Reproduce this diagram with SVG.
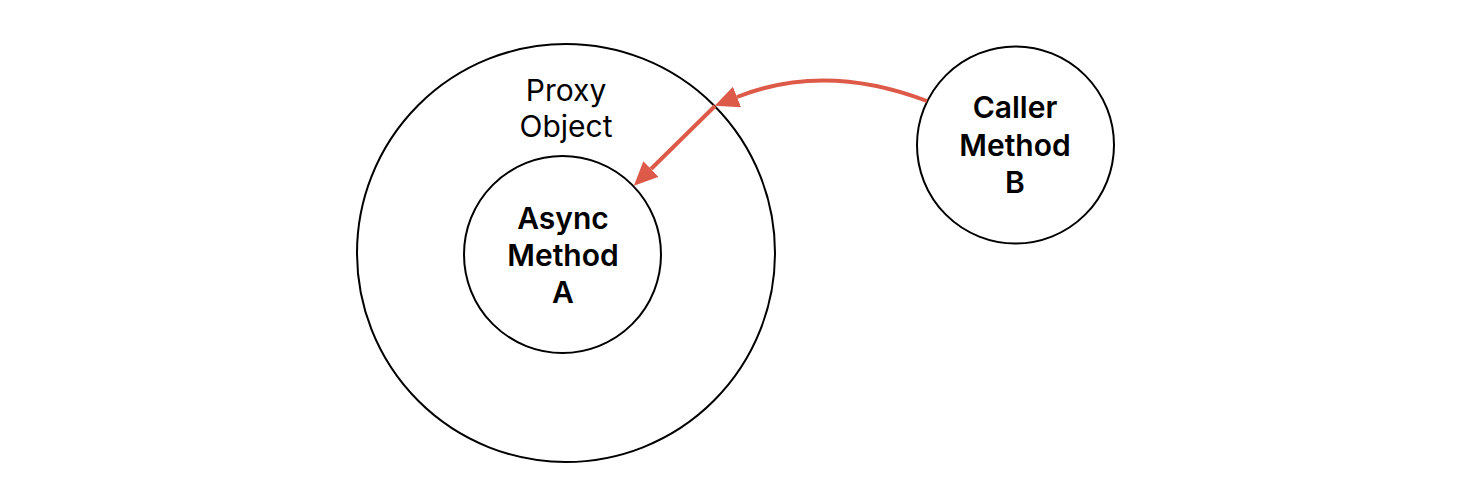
<svg xmlns="http://www.w3.org/2000/svg" width="1466" height="498" viewBox="0 0 1466 498">
  <style>
    .node { fill: #ffffff; stroke: #000000; stroke-width: 2; }
    .label { font-family: Inter, "Liberation Sans", Arial, sans-serif; font-size: 30px; fill: #000000; text-anchor: middle; }
    .bold { font-weight: 600; }
    .edge { fill: none; stroke: #DE5A48; stroke-width: 4; }
  </style>
  <defs>
    <marker id="arrow" markerUnits="userSpaceOnUse" markerWidth="26" markerHeight="24" refX="0" refY="11" orient="auto">
      <path d="M0,0 L24,11 L0,22 z" fill="#DE5A48"/>
    </marker>
  </defs>
  <rect width="1466" height="498" fill="#ffffff"/>
  <g id="proxy-object">
    <circle class="node" cx="566" cy="253" r="209"/>
    <text class="label" x="566" y="101">Proxy</text>
    <text class="label" x="566" y="137">Object</text>
  </g>
  <g id="async-method-a">
    <circle class="node" cx="562.5" cy="254.5" r="98.5"/>
    <text class="label bold" x="563" y="229">Async</text>
    <text class="label bold" x="563" y="266">Method</text>
    <text class="label bold" x="563" y="303">A</text>
  </g>
  <g id="caller-method-b">
    <circle class="node" cx="1015.5" cy="145" r="98.5"/>
    <text class="label bold" x="1015" y="118">Caller</text>
    <text class="label bold" x="1015" y="156">Method</text>
    <text class="label bold" x="1015" y="193">B</text>
  </g>
  <g id="connectors">
    <path class="edge" d="M 927 101 Q 825 62 737 97" marker-end="url(#arrow)"/>
    <path class="edge" d="M 715 106 L 651 169" marker-end="url(#arrow)"/>
  </g>
</svg>
